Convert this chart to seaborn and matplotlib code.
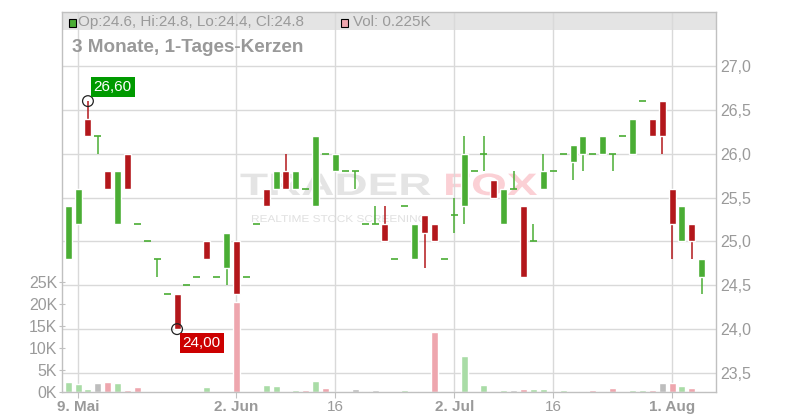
import matplotlib
matplotlib.use("Agg")
import numpy as np
import pandas as pd
import matplotlib.pyplot as plt
import seaborn as sns
from matplotlib.patches import Rectangle, PathPatch
from matplotlib.textpath import TextPath
from matplotlib.font_manager import FontProperties
from matplotlib.transforms import Affine2D, blended_transform_factory

# daily candles, 8 May .. 6 Aug (trading days only)
opens = [24.8, 25.2, 26.4, 26.2, 25.8, 25.2, 26.0, 25.2, 25.0, 24.8,
         24.4, 24.4, 24.5, 24.6, 25.0, 24.6, 24.7, 25.0, 24.6, 25.2,
         25.6, 25.6, 25.8, 25.6, 25.6, 25.4, 26.0, 25.8, 25.8, 25.8,
         25.2, 25.2, 25.2, 24.8, 25.4, 24.8, 25.3, 25.2, 24.8, 25.3,
         25.4, 25.8, 26.0, 25.7, 25.2, 25.6, 25.4, 25.0, 25.6, 25.8,
         26.0, 25.9, 26.0, 26.0, 26.0, 26.0, 26.2, 26.0, 26.6, 26.4,
         26.6, 25.6, 25.0, 25.2, 24.6]
highs = [25.4, 25.6, 26.6, 26.2, 25.8, 25.8, 26.0, 25.2, 25.0, 24.8,
         24.4, 24.4, 24.5, 24.6, 25.0, 24.6, 25.1, 25.0, 24.6, 25.2,
         25.6, 25.8, 26.0, 25.8, 25.6, 26.2, 26.0, 26.0, 25.8, 25.8,
         25.2, 25.4, 25.4, 24.8, 25.4, 25.2, 25.3, 25.2, 24.8, 25.5,
         26.2, 25.8, 26.2, 25.7, 25.6, 25.8, 25.4, 25.2, 26.0, 25.8,
         26.0, 26.1, 26.2, 26.0, 26.2, 26.0, 26.2, 26.4, 26.6, 26.4,
         26.6, 25.6, 25.4, 25.2, 24.8]
lows = [24.8, 25.2, 26.2, 26.0, 25.6, 25.2, 25.6, 25.2, 25.0, 24.6,
        24.4, 24.0, 24.5, 24.6, 24.8, 24.6, 24.5, 24.4, 24.6, 25.2,
        25.4, 25.6, 25.6, 25.6, 25.6, 25.4, 26.0, 25.8, 25.8, 25.6,
        25.2, 25.2, 25.0, 24.8, 25.4, 24.8, 24.7, 25.0, 24.8, 25.1,
        25.2, 25.8, 25.8, 25.5, 25.2, 25.6, 24.6, 25.0, 25.6, 25.8,
        26.0, 25.7, 25.8, 26.0, 26.0, 25.8, 26.2, 26.0, 26.6, 26.2,
        26.0, 24.8, 25.0, 24.8, 24.4]
closes = [25.4, 25.6, 26.2, 26.2, 25.6, 25.8, 25.6, 25.2, 25.0, 24.8,
          24.4, 24.0, 24.5, 24.6, 24.8, 24.6, 25.1, 24.4, 24.6, 25.2,
          25.4, 25.8, 25.6, 25.8, 25.6, 26.2, 26.0, 26.0, 25.8, 25.8,
          25.2, 25.2, 25.0, 24.8, 25.4, 25.2, 25.1, 25.0, 24.8, 25.3,
          26.0, 25.8, 26.0, 25.5, 25.6, 25.6, 24.6, 25.0, 25.8, 25.8,
          26.0, 26.1, 26.2, 26.0, 26.2, 26.0, 26.2, 26.4, 26.6, 26.2,
          26.2, 25.2, 25.4, 25.0, 24.8]
# volume in thousands
volume_k = [2.3, 1.9, 0.75, 2.1, 2.3, 2.1, 0.5, 1.2, 0, 0.3,
            0, 0, 0, 0, 1.2, 0, 0, 20.4, 0, 0.3,
            1.7, 1.4, 0, 0.5, 0.5, 2.6, 1.0, 0, 0, 0.75,
            0.3, 0.5, 0, 0, 0.5, 0.3, 0, 13.6, 0, 0,
            8.2, 0, 1.7, 0, 0.5, 0.5, 0.75, 0.75, 0.75, 0,
            0.5, 0, 0.3, 0.5, 0.3, 1.0, 0, 0.5, 0.5, 0.5,
            2.1, 2.1, 1.4, 1.0, 0.225]

date_ticks = [1, 17, 27, 39, 49, 61]
date_labels = ["9. Mai", "2. Jun", "16", "2. Jul", "16", "1. Aug"]
month_start = [True, True, False, True, False, True]
price_ticks = [23.5, 24.0, 24.5, 25.0, 25.5, 26.0, 26.5, 27.0]
vol_ticks = [0, 5, 10, 15, 20, 25]

GREEN = "#4aad34"
RED = "#b3171b"
VOL_COLORS = {"up": "#a9dca6", "down": "#eea6ae", "flat": "#bdbdbd"}
TXT = "#9a9a9a"
GRID = "#d9d9d9"

df = pd.DataFrame({"day": np.arange(len(opens)), "open": opens, "high": highs,
                   "low": lows, "close": closes, "volume": volume_k})
chg = df["close"].diff().fillna(1)
df["vol_dir"] = np.where(chg > 0, "up", np.where(chg < 0, "down", "flat"))
df["color"] = np.where(df["close"] >= df["open"], GREEN, RED)

sns.set_style("white")
plt.rcParams["font.family"] = ["Liberation Sans", "DejaVu Sans"]

fig = plt.figure(figsize=(8, 4.2), dpi=100)
fig.patch.set_facecolor("white")
ax = fig.add_axes([62 / 800, 28 / 420, 654 / 800, 380 / 420])
ax.patch.set_visible(False)
ax_p = ax.twinx()

# volume bars
sns.barplot(data=df, x="day", y="volume", hue="vol_dir", palette=VOL_COLORS,
            dodge=False, native_scale=True, width=0.7, saturation=1,
            legend=False, ax=ax, zorder=2)
ax.set_ylim(0, 86.36)
ax.set_xlim(-0.62, 65.44)
ax.set_xlabel("")
ax.set_ylabel("")

# candles
body = df[df["open"] != df["close"]]
doji = df[df["open"] == df["close"]]
ax_p.vlines(df["day"], df["low"], df["high"], colors=df["color"], lw=1.1, zorder=2)
ax_p.bar(body["day"], (body["close"] - body["open"]).abs(),
         bottom=body[["open", "close"]].min(axis=1), width=0.7,
         color=body["color"], zorder=3)
ax_p.hlines(doji["open"], doji["day"] - 0.35, doji["day"] + 0.35,
            colors=GREEN, lw=1.2, zorder=3)
ax_p.set_ylim(23.283, 27.616)
ax_p.set_xlim(-0.62, 65.44)

# high / low markers
hi_i = int(df["high"].idxmax())
lo_i = int(df["low"].idxmin())
ax_p.scatter([hi_i, lo_i], [highs[hi_i], lows[lo_i]], s=60, facecolors="none",
             edgecolors="#222222", lw=0.9, zorder=5)
ax_p.annotate(f"{highs[hi_i]:.2f}".replace(".", ","), xy=(hi_i, highs[hi_i]),
              xytext=(24.7, 14.2), textcoords="offset pixels", ha="center",
              va="center", color="white", fontsize=11, zorder=6,
              bbox=dict(boxstyle="square,pad=0.2", fc="#009a00", ec="none"))
ax_p.annotate(f"{lows[lo_i]:.2f}".replace(".", ","), xy=(lo_i, lows[lo_i]),
              xytext=(24.7, -14.2), textcoords="offset pixels", ha="center",
              va="center", color="white", fontsize=11, zorder=6,
              bbox=dict(boxstyle="square,pad=0.2", fc="#cc0000", ec="none"))

# grid: price lines drawn on the bottom axes so they stay behind the bars
grid_tr = blended_transform_factory(ax.transAxes, ax_p.transData)
for p in price_ticks:
    ax.plot([0, 1], [p, p], transform=grid_tr, color=GRID, lw=1, zorder=0.5)
ax.set_xticks(date_ticks)
ax.set_xticklabels(date_labels)
ax.grid(axis="x", color=GRID, lw=1)
ax.grid(axis="y", visible=False)
ax.set_axisbelow(True)
for lbl, bold in zip(ax.get_xticklabels(), month_start):
    lbl.set_fontweight("bold" if bold else "normal")

# header band
ax.add_patch(Rectangle((0, 1 - 18 / 380), 1, 18 / 380, transform=ax.transAxes,
                       fc="#e4e4e4", ec="none", zorder=0.2))

# axis styling
ax.set_yticks(vol_ticks)
ax.set_yticklabels([f"{v}K" for v in vol_ticks])
ax.tick_params(axis="y", left=True, length=5, direction="inout", color="#c0c0c0",
               labelsize=11.5, labelcolor=TXT, pad=1)
ax.tick_params(axis="x", bottom=True, length=4, color="#c0c0c0", labelsize=11,
               labelcolor=TXT, pad=2)
ax_p.set_yticks(price_ticks)
ax_p.set_yticklabels([f"{p:.1f}".replace(".", ",") for p in price_ticks])
ax_p.tick_params(axis="y", right=True, length=0, labelsize=11.5, labelcolor=TXT, pad=3)
for s in ax.spines.values():
    s.set_color("#c0c0c0")
    s.set_linewidth(1)
for s in ax_p.spines.values():
    s.set_visible(False)

# header texts
fig.add_artist(Rectangle((68.5 / 800, 1 - 26.5 / 420), 7 / 800, 7 / 420,
                         transform=fig.transFigure, fc=GREEN, ec="black", lw=0.8))
fig.text(78 / 800, 1 - 22 / 420, "Op:24.6, Hi:24.8, Lo:24.4, Cl:24.8",
         fontsize=11, color=TXT, va="center")
fig.add_artist(Rectangle((341 / 800, 1 - 26.5 / 420), 7 / 800, 7 / 420,
                         transform=fig.transFigure, fc=VOL_COLORS["down"],
                         ec="black", lw=0.8))
fig.text(353 / 800, 1 - 22 / 420, "Vol: 0.225K", fontsize=11, color=TXT,
         va="center")
fig.text(72 / 800, 1 - 48 / 420, "3 Monate, 1-Tages-Kerzen", fontsize=13.6,
         fontweight="bold", color="#999999", va="center")

# watermark (display pixels, y from bottom)
fp_b = FontProperties(family="Liberation Sans", weight="bold")
fp_r = FontProperties(family="Liberation Sans")
tp1 = TextPath((0, 0), "TRADER", size=31, prop=fp_b)
tp2 = TextPath((0, 0), "FOX", size=31, prop=fp_b)
tp3 = TextPath((0, 0), "REALTIME STOCK SCREENING", size=10, prop=fp_r)
sx = 190 / tp1.get_extents().width
for tp, x0, y0, col, scale in [(tp1, 240, 225, "#e4e4e4", sx),
                               (tp2, 443, 225, "#fbd0d5", sx),
                               (tp3, 251, 198, "#e0e0e0", 174 / tp3.get_extents().width)]:
    fig.add_artist(PathPatch(tp, transform=Affine2D().scale(scale, 1).translate(x0, y0),
                             fc=col, ec="none", zorder=-1))

fig.savefig("out.png", dpi=100, facecolor="white")
